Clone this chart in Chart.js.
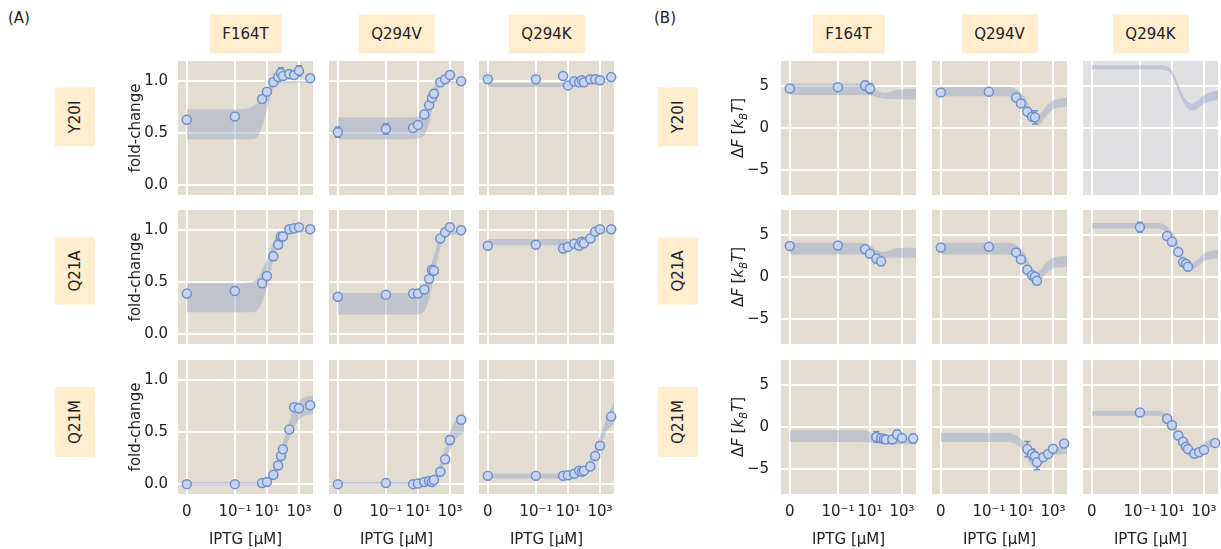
<!DOCTYPE html>
<html>
<head>
<meta charset="utf-8">
<script src="https://cdn.jsdelivr.net/npm/chart.js@4.4.0/dist/chart.umd.min.js"></script>
<style>
  body { margin: 0; width: 1221px; height: 549px; background: #fff; position: relative; overflow: hidden;
         font-family: "DejaVu Sans", sans-serif; color: #222; }
  canvas { position: absolute; }
  .strip { position: absolute; background: #FFEDCE; font-size: 15px; white-space: nowrap; text-align: center; }
  .col-strip { height: 39px; line-height: 39px; padding: 0 13px; transform: translate(-50%, -50%); }
  .row-strip { height: 40px; line-height: 40px; padding: 0 13px; transform: translate(-50%, -50%) rotate(-90deg); }
  .ytitle { position: absolute; font-size: 15px; white-space: nowrap; transform: translate(-50%, -50%) rotate(-90deg); }
  .letter { position: absolute; font-size: 15px; top: 9px; }
</style>
</head>
<body>
<div class="letter" style="left:8px">(A)</div>
<div class="letter" style="left:654px">(B)</div>
<script>
// concentrations (µM), facets and ticks
var IPTG = [0, 0.1, 5, 10, 25, 50, 75, 100, 250, 500, 1000, 5000];
var ROWS = ['Y20I', 'Q21A', 'Q21M'];
var COLS = ['F164T', 'Q294V', 'Q294K'];
var X_TICKS = [-4, -1, 1, 3];
var X_LABELS = ['0', '10⁻¹', '10¹', '10³'];
var FC_TICKS = [0, 0.5, 1];
var FC_LABELS = ['0.0', '0.5', '1.0'];
var DF_TICKS = [-5, 0, 5];
var DF_LABELS = ['−5', '0', '5'];
// concentrations where the credible region edges were read
var BAND_IPTG = [0, 0.1, 1, 3, 10, 18, 30, 56, 100, 180, 300, 560, 1000, 2500, 7500];

// (A) fold-change, mean and error
var fc_Y20I_F164T = [0.63, 0.66, 0.83, 0.90, 0.99, 1.04, 1.08, 1.05, 1.07, 1.06, 1.10, 1.03];
var fcErr_Y20I_F164T = [0.02, 0.01, 0.02, 0.02, 0.02, 0.02, 0.05, 0.02, 0.02, 0.02, 0.05, 0.02];
var fc_Y20I_Q294V = [0.51, 0.54, 0.55, 0.58, 0.68, 0.77, 0.84, 0.88, 0.99, 1.02, 1.06, 1.00];
var fcErr_Y20I_Q294V = [0.05, 0.05, 0.02, 0.02, 0.03, 0.03, 0.03, 0.04, 0.02, 0.02, 0.03, 0.02];
var fc_Y20I_Q294K = [1.02, 1.02, 1.05, 0.96, 1.00, 0.99, 1.01, 0.99, 1.02, 1.02, 1.01, 1.04];
var fcErr_Y20I_Q294K = [0.02, 0.02, 0.03, 0.01, 0.01, 0.01, 0.01, 0.01, 0.01, 0.01, 0.01, 0.01];
var fc_Q21A_F164T = [0.39, 0.415, 0.49, 0.56, 0.75, 0.86, 0.94, 0.94, 1.01, 1.02, 1.03, 1.01];
var fcErr_Q21A_F164T = [0.01, 0.01, 0.01, 0.01, 0.04, 0.02, 0.02, 0.02, 0.01, 0.01, 0.01, 0.01];
var fc_Q21A_Q294V = [0.36, 0.38, 0.39, 0.39, 0.43, 0.53, 0.62, 0.61, 0.92, 0.98, 1.03, 1.00];
var fcErr_Q21A_Q294V = [0.01, 0.01, 0.01, 0.01, 0.01, 0.01, 0.03, 0.03, 0.02, 0.03, 0.03, 0.03];
var fc_Q21A_Q294K = [0.85, 0.86, 0.825, 0.84, 0.87, 0.85, 0.89, 0.875, 0.92, 0.985, 1.01, 1.01];
var fcErr_Q21A_Q294K = [0.03, 0.02, 0.01, 0.01, 0.01, 0.01, 0.01, 0.01, 0.01, 0.01, 0.02, 0.01];
var fc_Q21M_F164T = [0.00, 0.00, 0.01, 0.02, 0.09, 0.18, 0.27, 0.335, 0.525, 0.74, 0.73, 0.76];
var fcErr_Q21M_F164T = [0.03, 0.01, 0.01, 0.01, 0.01, 0.01, 0.02, 0.03, 0.02, 0.02, 0.02, 0.03];
var fc_Q21M_Q294V = [0.00, 0.01, 0.00, 0.005, 0.02, 0.03, 0.02, 0.04, 0.12, 0.24, 0.425, 0.62];
var fcErr_Q21M_Q294V = [0.03, 0.01, 0.01, 0.01, 0.01, 0.01, 0.01, 0.01, 0.01, 0.01, 0.04, 0.03];
var fc_Q21M_Q294K = [0.08, 0.08, 0.08, 0.085, 0.10, 0.13, 0.12, 0.13, 0.17, 0.27, 0.37, 0.65];
var fcErr_Q21M_Q294K = [0.03, 0.01, 0.01, 0.01, 0.01, 0.01, 0.01, 0.01, 0.01, 0.01, 0.01, 0.03];

// (A) fold-change credible region, low / high edge at BAND_IPTG
var fcLo_Y20I_F164T = [0.44, 0.44, 0.44, 0.48, 0.72, 0.88, 0.96, 0.98, 0.985, 0.985, 0.985, 0.985, 0.985, 0.985, 0.985];
var fcHi_Y20I_F164T = [0.73, 0.73, 0.75, 0.80, 0.92, 0.97, 0.995, 1.0, 1.0, 1.0, 1.0, 1.0, 1.0, 1.0, 1.0];
var fcLo_Y20I_Q294V = [0.44, 0.44, 0.44, 0.44, 0.45, 0.46, 0.50, 0.63, 0.80, 0.92, 0.97, 0.98, 0.985, 0.99, 0.99];
var fcHi_Y20I_Q294V = [0.65, 0.65, 0.65, 0.65, 0.66, 0.68, 0.74, 0.84, 0.94, 0.99, 1.0, 1.0, 1.0, 1.0, 1.0];
var fcLo_Y20I_Q294K = [0.945, 0.945, 0.945, 0.945, 0.945, 0.947, 0.95, 0.955, 0.96, 0.968, 0.975, 0.98, 0.985, 0.99, 0.99];
var fcHi_Y20I_Q294K = [0.98, 0.98, 0.98, 0.98, 0.98, 0.985, 0.99, 0.99, 0.995, 1.0, 1.0, 1.0, 1.0, 1.0, 1.0];
var fcLo_Q21A_F164T = [0.21, 0.21, 0.21, 0.24, 0.45, 0.62, 0.78, 0.90, 0.95, 0.97, 0.975, 0.98, 0.98, 0.98, 0.98];
var fcHi_Q21A_F164T = [0.49, 0.49, 0.50, 0.55, 0.72, 0.83, 0.91, 0.97, 0.99, 1.0, 1.0, 1.0, 1.0, 1.0, 1.0];
var fcLo_Q21A_Q294V = [0.19, 0.19, 0.19, 0.19, 0.19, 0.20, 0.24, 0.37, 0.56, 0.74, 0.87, 0.93, 0.95, 0.96, 0.96];
var fcHi_Q21A_Q294V = [0.395, 0.395, 0.395, 0.395, 0.40, 0.43, 0.50, 0.63, 0.76, 0.89, 0.96, 0.99, 1.0, 1.0, 1.0];
var fcLo_Q21A_Q294K = [0.855, 0.855, 0.855, 0.855, 0.855, 0.855, 0.857, 0.862, 0.87, 0.89, 0.91, 0.935, 0.96, 0.98, 0.985];
var fcHi_Q21A_Q294K = [0.915, 0.915, 0.915, 0.915, 0.915, 0.915, 0.918, 0.922, 0.93, 0.945, 0.96, 0.975, 0.99, 1.0, 1.0];
var fcLo_Q21M_F164T = [-0.01, -0.01, -0.01, -0.01, -0.01, 0.02, 0.07, 0.16, 0.27, 0.38, 0.48, 0.56, 0.62, 0.66, 0.67];
var fcHi_Q21M_F164T = [0.02, 0.02, 0.02, 0.02, 0.04, 0.08, 0.16, 0.28, 0.40, 0.52, 0.64, 0.74, 0.80, 0.84, 0.85];
var fcLo_Q21M_Q294V = [-0.005, -0.005, -0.005, -0.005, -0.005, -0.005, -0.005, 0.0, 0.03, 0.07, 0.14, 0.23, 0.33, 0.44, 0.50];
var fcHi_Q21M_Q294V = [0.02, 0.02, 0.02, 0.02, 0.02, 0.02, 0.025, 0.04, 0.08, 0.15, 0.25, 0.37, 0.50, 0.63, 0.70];
var fcLo_Q21M_Q294K = [0.055, 0.055, 0.055, 0.055, 0.055, 0.057, 0.06, 0.07, 0.09, 0.13, 0.19, 0.26, 0.35, 0.50, 0.58];
var fcHi_Q21M_Q294K = [0.10, 0.10, 0.10, 0.10, 0.10, 0.105, 0.11, 0.12, 0.15, 0.20, 0.27, 0.36, 0.46, 0.63, 0.80];

// (B) free energy shift ΔF (kBT), mean and error; null = not shown
var df_Y20I_F164T = [4.72, 4.88, 5.08, 4.72, null, null, null, null, null, null, null, null];
var dfErr_Y20I_F164T = [0.1, 0.1, 0.5, 0.6, 0, 0, 0, 0, 0, 0, 0, 0];
var df_Y20I_Q294V = [4.25, 4.32, 3.65, 2.94, 1.94, 1.35, 1.27, null, null, null, null, null];
var dfErr_Y20I_Q294V = [0.1, 0.1, 0.15, 0.15, 0.2, 0.3, 0.8, 0, 0, 0, 0, 0];
var df_Y20I_Q294K = [null, null, null, null, null, null, null, null, null, null, null, null];
var dfErr_Y20I_Q294K = [0, 0, 0, 0, 0, 0, 0, 0, 0, 0, 0, 0];
var df_Q21A_F164T = [3.7, 3.77, 3.3, 2.77, 2.2, 1.87, null, null, null, null, null, null];
var dfErr_Q21A_F164T = [0.1, 0.1, 0.1, 0.15, 0.5, 0.5, 0, 0, 0, 0, 0, 0];
var df_Q21A_Q294V = [3.53, 3.6, 2.94, 2.1, 0.87, 0.2, 0.04, -0.44, null, null, null, null];
var dfErr_Q21A_Q294V = [0.1, 0.1, 0.1, 0.1, 0.15, 0.2, 0.3, 0.3, 0, 0, 0, 0];
var df_Q21A_Q294K = [null, 5.95, 4.9, 4.2, 3.0, 1.75, 1.55, 1.23, null, null, null, null];
var dfErr_Q21A_Q294K = [0, 0.6, 0.15, 0.15, 0.2, 0.2, 0.3, 0.3, 0, 0, 0, 0];
var df_Q21M_F164T = [null, null, null, null, -1.18, -1.34, -1.42, -1.5, -1.5, -0.9, -1.3, -1.38];
var dfErr_Q21M_F164T = [0, 0, 0, 0, 0.6, 0.3, 0.3, 0.3, 0.2, 0.5, 0.2, 0.5];
var df_Q21M_Q294V = [null, null, null, null, -2.64, -3.23, -3.5, -4.2, -3.6, -3.23, -2.6, -1.97];
var dfErr_Q21M_Q294V = [0, 0, 0, 0, 0.9, 0.6, 0.5, 0.9, 0.3, 0.2, 0.2, 0.2];
var df_Q21M_Q294K = [null, 1.74, 0.99, 0.2, -1.02, -1.77, -2.37, -2.64, -3.2, -3.0, -2.76, -1.9];
var dfErr_Q21M_Q294K = [0, 0.15, 0.15, 0.15, 0.15, 0.15, 0.15, 0.15, 0.15, 0.15, 0.15, 0.15];

// (B) ΔF credible region, low / high edge at BAND_IPTG
var dfLo_Y20I_F164T = [3.95, 3.95, 3.95, 3.95, 3.9, 3.8, 3.65, 3.55, 3.5, 3.45, 3.45, 3.42, 3.4, 3.4, 3.4];
var dfHi_Y20I_F164T = [5.3, 5.3, 5.3, 5.3, 5.2, 4.9, 4.5, 4.25, 4.2, 4.3, 4.45, 4.55, 4.6, 4.65, 4.65];
var dfLo_Y20I_Q294V = [3.8, 3.8, 3.8, 3.7, 3.0, 2.3, 1.5, 0.8, 0.4, 0.6, 1.2, 1.8, 2.2, 2.45, 2.55];
var dfHi_Y20I_Q294V = [4.9, 4.9, 4.9, 4.8, 4.2, 3.6, 2.8, 2.0, 1.6, 1.8, 2.4, 2.95, 3.3, 3.5, 3.6];
var dfLo_Y20I_Q294K = [7.0, 7.0, 7.0, 6.95, 6.3, 5.2, 4.0, 2.9, 2.3, 2.1, 2.2, 2.55, 2.9, 3.2, 3.3];
var dfHi_Y20I_Q294K = [7.5, 7.5, 7.5, 7.45, 6.9, 5.9, 4.8, 3.7, 3.1, 2.9, 3.1, 3.5, 3.9, 4.3, 4.45];
var dfLo_Q21A_F164T = [2.7, 2.7, 2.7, 2.7, 2.6, 2.4, 2.3, 2.3, 2.3, 2.3, 2.3, 2.3, 2.3, 2.3, 2.3];
var dfHi_Q21A_F164T = [4.1, 4.1, 4.1, 4.1, 3.8, 3.45, 3.15, 3.0, 3.05, 3.2, 3.35, 3.45, 3.5, 3.5, 3.5];
var dfLo_Q21A_Q294V = [2.7, 2.7, 2.7, 2.6, 2.1, 1.4, 0.5, -0.3, -0.6, -0.4, 0.2, 0.7, 1.0, 1.15, 1.2];
var dfHi_Q21A_Q294V = [4.1, 4.1, 4.1, 4.0, 3.4, 2.7, 1.8, 1.0, 0.65, 0.9, 1.5, 2.0, 2.3, 2.45, 2.5];
var dfLo_Q21A_Q294K = [5.8, 5.8, 5.8, 5.6, 4.7, 3.7, 2.5, 1.5, 1.0, 0.9, 1.1, 1.5, 1.9, 2.1, 2.2];
var dfHi_Q21A_Q294K = [6.45, 6.45, 6.45, 6.3, 5.5, 4.6, 3.4, 2.3, 1.7, 1.6, 1.9, 2.4, 2.8, 3.1, 3.2];
var dfLo_Q21M_F164T = [-1.8, -1.8, -1.8, -1.8, -1.85, -1.9, -1.95, -1.98, -2.0, -2.02, -2.05, -2.05, -2.05, -2.05, -2.05];
var dfHi_Q21M_F164T = [-0.4, -0.4, -0.4, -0.4, -0.6, -0.85, -1.05, -1.15, -1.2, -1.22, -1.25, -1.25, -1.25, -1.25, -1.25];
var dfLo_Q21M_Q294V = [-1.8, -1.8, -1.8, -1.9, -2.5, -3.3, -4.1, -4.7, -4.9, -4.6, -4.1, -3.7, -3.4, -3.25, -3.2];
var dfHi_Q21M_Q294V = [-0.7, -0.7, -0.7, -0.8, -1.4, -2.1, -2.9, -3.4, -3.5, -3.3, -2.95, -2.65, -2.5, -2.4, -2.35];
var dfLo_Q21M_Q294K = [1.35, 1.35, 1.35, 1.2, 0.3, -0.7, -1.8, -2.8, -3.4, -3.6, -3.5, -3.1, -2.7, -2.45, -2.35];
var dfHi_Q21M_Q294K = [1.9, 1.9, 1.9, 1.75, 1.0, 0.1, -1.0, -2.0, -2.6, -2.8, -2.7, -2.3, -1.9, -1.5, -1.25];

// colours
const BG = '#E3DCD0';
const BG_EMPTY = '#E0E0E2';
const BAND = 'rgba(150, 165, 200, 0.45)';
const PT_FILL = '#C6D4EF';
const PT_EDGE = '#6F8FCB';

// layout of the plot areas (px)
const PLOT_W = 135, PLOT_H = 134;
const A_LEFT = [178, 329, 479];
const B_LEFT = [781, 932, 1083];
const ROW_TOP = [61, 210, 360];

Chart.defaults.font.family = '"DejaVu Sans", sans-serif';
Chart.defaults.font.size = 15;
Chart.defaults.color = '#222';

// zero concentration is drawn at the 10^-4 position, as in the original axis
function logPos(c) { return c === 0 ? -4 : Math.log10(c); }

const panels = [];
ROWS.forEach((row, r) => {
  COLS.forEach((col, c) => {
    const key = row + '_' + col;
    panels.push({ side: 'A', r, c, left: A_LEFT[c], vals: window['fc_' + key], errs: window['fcErr_' + key],
                  lo: window['fcLo_' + key], hi: window['fcHi_' + key], bg: BG });
    panels.push({ side: 'B', r, c, left: B_LEFT[c], vals: window['df_' + key], errs: window['dfErr_' + key],
                  lo: window['dfLo_' + key], hi: window['dfHi_' + key],
                  bg: key === 'Y20I_Q294K' ? BG_EMPTY : BG });
  });
});

// draws the error bars of the points dataset just before its markers
const errorBars = {
  id: 'errorBars',
  beforeDatasetDraw(chart, args) {
    const ds = chart.data.datasets[args.index];
    if (!ds.isPoints) return;
    const { ctx, scales: { x, y } } = chart;
    ctx.save();
    ctx.strokeStyle = PT_EDGE;
    ctx.lineWidth = 1.5;
    ds.data.forEach(p => {
      if (!p.e) return;
      const px = x.getPixelForValue(p.x);
      const y0 = y.getPixelForValue(p.y - p.e), y1 = y.getPixelForValue(p.y + p.e);
      ctx.beginPath();
      ctx.moveTo(px, y0); ctx.lineTo(px, y1);
      ctx.moveTo(px - 3, y0); ctx.lineTo(px + 3, y0);
      ctx.moveTo(px - 3, y1); ctx.lineTo(px + 3, y1);
      ctx.stroke();
    });
    ctx.restore();
  }
};

function bgPlugin(color) {
  return {
    id: 'panelBg',
    beforeDraw(chart) {
      const { ctx, chartArea: a } = chart;
      ctx.save();
      ctx.fillStyle = color;
      ctx.fillRect(a.left, a.top, a.right - a.left, a.bottom - a.top);
      ctx.restore();
    }
  };
}

function makePanel(p) {
  const firstCol = p.c === 0, lastRow = p.r === 2;
  // generous margins so that Chart.js never shrinks the plot area
  const padL = firstCol ? 60 : 14, padB = lastRow ? 55 : 24, padT = 24, padR = 14;
  const canvas = document.createElement('canvas');
  canvas.width = PLOT_W + padL + padR;
  canvas.height = PLOT_H + padT + padB;
  canvas.style.left = (p.left - padL) + 'px';
  canvas.style.top = (ROW_TOP[p.r] - padT) + 'px';
  document.body.appendChild(canvas);

  const isA = p.side === 'A';
  const yTicks = isA ? FC_TICKS : DF_TICKS;
  const yLabels = isA ? FC_LABELS : DF_LABELS;

  const hi = BAND_IPTG.map((c, i) => ({ x: logPos(c), y: p.hi[i] }));
  const lo = BAND_IPTG.map((c, i) => ({ x: logPos(c), y: p.lo[i] }));
  const pts = [];
  IPTG.forEach((c, i) => {
    if (p.vals[i] !== null) pts.push({ x: logPos(c), y: p.vals[i], e: p.errs[i] });
  });

  new Chart(canvas, {
    type: 'line',
    data: {
      datasets: [
        { data: hi, fill: '+1', backgroundColor: BAND, borderColor: 'transparent', borderWidth: 0,
          pointRadius: 0, cubicInterpolationMode: 'monotone', order: 1 },
        { data: lo, fill: false, borderColor: 'transparent', borderWidth: 0,
          pointRadius: 0, cubicInterpolationMode: 'monotone', order: 2 },
        { data: pts, isPoints: true, showLine: false, pointRadius: 4.5, pointBorderWidth: 1.5,
          pointBackgroundColor: PT_FILL, pointBorderColor: PT_EDGE, clip: false, order: 0 }
      ]
    },
    options: {
      responsive: false,
      animation: false,
      devicePixelRatio: 1,
      events: [],
      layout: { autoPadding: false, padding: { top: padT, right: padR, left: 0, bottom: 0 } },
      plugins: { legend: { display: false }, tooltip: { enabled: false } },
      scales: {
        x: {
          type: 'linear', min: -4.55, max: 3.875,
          afterBuildTicks: s => { s.ticks = X_TICKS.map(v => ({ value: v })); },
          afterFit: s => { s.height = padB; },
          grid: { color: '#fff', lineWidth: 2, drawTicks: false },
          border: { display: false },
          ticks: { display: lastRow, autoSkip: false, maxRotation: 0, minRotation: 0, padding: 9,
                   callback: (v, i) => X_LABELS[i] },
          title: { display: lastRow, text: 'IPTG [µM]', padding: { top: 0, bottom: 0 } }
        },
        y: {
          type: 'linear', min: isA ? -0.095 : -8, max: isA ? 1.195 : 8,
          afterBuildTicks: s => { s.ticks = yTicks.map(v => ({ value: v })); },
          afterFit: s => { s.width = padL; },
          grid: { color: '#fff', lineWidth: 2, drawTicks: false },
          border: { display: false },
          ticks: { display: firstCol, padding: isA ? 10 : 12, callback: (v, i) => yLabels[i] }
        }
      }
    },
    plugins: [bgPlugin(p.bg), errorBars]
  });
}

panels.forEach(makePanel);

// facet strips and y titles
function addDiv(cls, html, x, y) {
  const d = document.createElement('div');
  d.className = cls;
  d.innerHTML = html;
  d.style.left = x + 'px';
  d.style.top = y + 'px';
  document.body.appendChild(d);
}
const ROW_STRIP_Y = [116.5, 270.5, 421.5];
[A_LEFT, B_LEFT].forEach((lefts, s) => {
  COLS.forEach((col, c) => addDiv('strip col-strip', col, lefts[c] + PLOT_W / 2, 33.5));
  ROWS.forEach((row, r) => {
    addDiv('strip row-strip', row, s === 0 ? 75 : 678, ROW_STRIP_Y[r]);
    const cy = ROW_TOP[r] + PLOT_H / 2;
    if (s === 0) addDiv('ytitle', 'fold-change', 135, cy);
    else addDiv('ytitle', 'Δ<i>F</i> [<i>k</i><sub style="font-size:10px"><i>B</i></sub><i>T</i>]', 739, cy);
  });
});
</script>
</body>
</html>
